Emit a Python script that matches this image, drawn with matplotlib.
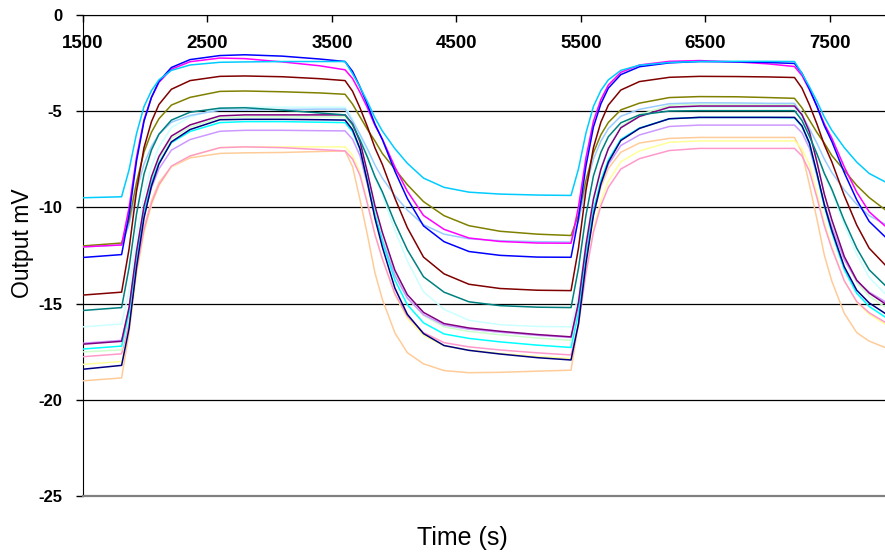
import matplotlib
matplotlib.use("Agg")
import matplotlib.pyplot as plt

plt.rcParams['font.family'] = ['Liberation Sans', 'DejaVu Sans']

# Sample times (s), shared by every sensor trace
time_s = [1500, 1810, 1870, 1930, 1990, 2050, 2110, 2210, 2360, 2600, 2800, 3100, 3400, 3605,
          3665, 3725, 3785, 3845, 3905, 4005, 4105, 4235, 4400, 4600, 4850, 5150, 5420,
          5480, 5540, 5600, 5660, 5720, 5820, 5970, 6210, 6450, 6750, 7000, 7215,
          7275, 7335, 7395, 7455, 7515, 7615, 7715, 7815, 7945]

# Output (mV) of each sensor
sky = [-9.50, -9.45, -8.05, -6.17, -4.77, -3.94, -3.38, -2.89, -2.61, -2.47, -2.45, -2.43, -2.43, -2.43,
       -3.06, -3.75, -4.52, -5.35, -6.04, -6.95, -7.71, -8.48, -8.96, -9.21, -9.31, -9.36, -9.38,
       -8.00, -6.14, -4.76, -3.93, -3.38, -2.89, -2.62, -2.48, -2.43, -2.42, -2.42, -2.43,
       -3.05, -3.74, -4.49, -5.32, -6.00, -6.90, -7.65, -8.24, -8.68]
blue = [-12.60, -12.45, -10.38, -7.59, -5.53, -4.29, -3.46, -2.74, -2.33, -2.12, -2.08, -2.15, -2.30, -2.43,
        -2.94, -3.75, -4.67, -5.68, -6.49, -8.12, -9.54, -10.96, -11.78, -12.29, -12.49, -12.58, -12.59,
        -10.57, -7.85, -5.83, -4.62, -3.81, -3.11, -2.70, -2.50, -2.43, -2.45, -2.48, -2.53,
        -3.04, -3.85, -4.76, -5.77, -6.58, -8.20, -9.61, -10.73, -11.54]
magenta = [-12.05, -11.95, -10.01, -7.39, -5.45, -4.29, -3.51, -2.83, -2.44, -2.25, -2.28, -2.45, -2.65, -2.86,
           -3.31, -4.03, -4.84, -5.74, -6.46, -7.90, -9.16, -10.42, -11.14, -11.59, -11.77, -11.85, -11.86,
           -9.97, -7.42, -5.53, -4.40, -3.65, -2.99, -2.61, -2.42, -2.38, -2.45, -2.55, -2.69,
           -3.16, -3.90, -4.74, -5.67, -6.41, -7.90, -9.21, -10.23, -10.98]
dark_red = [-14.55, -14.40, -12.16, -9.14, -6.90, -5.55, -4.66, -3.87, -3.42, -3.20, -3.18, -3.22, -3.32, -3.42,
            -3.97, -4.84, -5.82, -6.91, -7.78, -9.52, -11.05, -12.58, -13.45, -13.99, -14.21, -14.30, -14.32,
            -12.11, -9.12, -6.90, -5.57, -4.69, -3.91, -3.47, -3.25, -3.20, -3.21, -3.23, -3.26,
            -3.81, -4.68, -5.67, -6.76, -7.64, -9.39, -10.92, -12.12, -13.00]
olive = [-12.00, -11.85, -10.67, -8.70, -7.13, -6.10, -5.40, -4.69, -4.29, -3.98, -3.96, -4.00, -4.06, -4.13,
         -4.64, -5.30, -5.96, -6.55, -7.21, -8.01, -8.82, -9.70, -10.43, -10.95, -11.24, -11.39, -11.46,
         -10.39, -8.60, -7.16, -6.23, -5.59, -4.94, -4.59, -4.30, -4.25, -4.26, -4.30, -4.34,
         -4.83, -5.47, -6.11, -6.67, -7.31, -8.08, -8.86, -9.49, -10.13]
teal = [-15.35, -15.20, -13.13, -10.34, -8.27, -7.02, -6.20, -5.47, -5.06, -4.85, -4.83, -4.95, -5.10, -5.20,
        -5.70, -6.50, -7.40, -8.40, -9.20, -10.80, -12.20, -13.60, -14.40, -14.90, -15.10, -15.18, -15.20,
        -13.16, -10.41, -8.37, -7.14, -6.33, -5.61, -5.20, -5.00, -4.98, -4.98, -4.98, -4.98,
        -5.49, -6.31, -7.22, -8.24, -9.06, -10.69, -12.12, -13.24, -14.06]
light_cyan = [-16.20, -16.05, -14.37, -11.57, -9.33, -7.87, -6.87, -5.86, -5.30, -4.85, -4.80, -4.80, -4.80, -4.80,
              -5.37, -6.28, -7.31, -8.45, -9.36, -11.18, -12.78, -14.38, -15.29, -15.86, -16.09, -16.18, -16.20,
              -14.50, -11.66, -9.39, -7.91, -6.89, -5.87, -5.30, -4.85, -4.80, -4.80, -4.80, -4.80,
              -5.35, -6.22, -7.20, -8.29, -9.16, -10.90, -12.43, -13.63, -14.50]
purple = [-17.10, -16.95, -15.20, -12.27, -9.93, -8.41, -7.36, -6.30, -5.72, -5.25, -5.20, -5.20, -5.20, -5.20,
          -5.66, -6.58, -8.20, -9.92, -11.31, -13.26, -14.53, -15.45, -16.03, -16.26, -16.43, -16.60, -16.72,
          -14.93, -11.95, -9.57, -8.02, -6.95, -5.87, -5.28, -4.80, -4.74, -4.74, -4.74, -4.74,
          -5.19, -6.08, -7.64, -9.32, -10.65, -12.55, -13.78, -14.45, -15.01]
light_blue = [-12.05, -11.95, -10.90, -9.15, -7.75, -6.84, -6.21, -5.58, -5.23, -4.95, -4.95, -4.92, -4.90, -4.90,
              -5.52, -6.21, -6.97, -7.80, -8.49, -9.39, -10.14, -10.90, -11.39, -11.63, -11.73, -11.78, -11.80,
              -10.72, -8.93, -7.49, -6.56, -5.91, -5.27, -4.91, -4.62, -4.57, -4.58, -4.60, -4.60,
              -5.22, -5.91, -6.67, -7.50, -8.19, -9.09, -9.84, -10.43, -10.88]
navy = [-18.40, -18.20, -16.29, -13.10, -10.55, -8.89, -7.75, -6.60, -5.96, -5.45, -5.43, -5.43, -5.45, -5.47,
        -5.97, -6.96, -8.71, -10.57, -12.07, -14.19, -15.55, -16.55, -17.17, -17.42, -17.61, -17.80, -17.92,
        -16.04, -12.91, -10.41, -8.78, -7.65, -6.53, -5.90, -5.40, -5.33, -5.33, -5.33, -5.33,
        -5.77, -6.66, -8.21, -9.87, -11.20, -13.08, -14.30, -14.96, -15.51]
cyan = [-17.35, -17.20, -15.46, -12.56, -10.24, -8.73, -7.69, -6.64, -6.06, -5.60, -5.55, -5.55, -5.58, -5.60,
        -6.07, -7.00, -8.63, -10.38, -11.79, -13.77, -15.05, -15.99, -16.57, -16.80, -16.98, -17.15, -17.27,
        -15.49, -12.52, -10.15, -8.60, -7.54, -6.47, -5.88, -5.40, -5.33, -5.33, -5.33, -5.35,
        -5.80, -6.70, -8.28, -9.96, -11.31, -13.23, -14.46, -15.14, -15.70]
lavender = [-17.05, -16.90, -15.27, -12.56, -10.39, -8.98, -8.00, -7.03, -6.48, -6.05, -6.00, -6.00, -6.02, -6.03,
            -6.46, -7.32, -8.82, -10.43, -11.71, -13.53, -14.71, -15.57, -16.11, -16.32, -16.48, -16.64, -16.75,
            -15.11, -12.37, -10.18, -8.76, -7.77, -6.79, -6.24, -5.80, -5.73, -5.73, -5.73, -5.73,
            -6.13, -6.93, -8.32, -9.82, -11.01, -12.71, -13.81, -14.40, -14.90]
light_green = [-17.50, -17.40, -15.59, -12.58, -10.17, -8.60, -7.52, -6.43, -5.83, -5.35, -5.30, -5.30, -5.30, -5.30,
               -5.76, -6.69, -8.32, -10.06, -11.45, -13.42, -14.70, -15.62, -16.20, -16.44, -16.61, -16.78, -16.90,
               -15.07, -12.02, -9.58, -8.00, -6.90, -5.80, -5.19, -4.70, -4.64, -4.64, -4.64, -4.65,
               -5.11, -6.02, -7.63, -9.34, -10.72, -12.67, -13.92, -14.61, -15.18]
pink = [-17.75, -17.60, -16.00, -13.32, -11.18, -9.79, -8.83, -7.86, -7.33, -6.90, -6.86, -6.90, -7.00, -7.07,
        -7.49, -8.34, -9.82, -11.41, -12.68, -14.48, -15.65, -16.50, -17.02, -17.24, -17.40, -17.55, -17.66,
        -16.07, -13.42, -11.29, -9.91, -8.96, -8.01, -7.47, -7.05, -6.94, -6.94, -6.94, -6.94,
        -7.33, -8.12, -9.49, -10.96, -12.14, -13.81, -14.89, -15.47, -15.97]
yellow = [-18.15, -18.00, -16.34, -13.56, -11.34, -9.90, -8.90, -7.90, -7.34, -6.90, -6.86, -6.86, -6.86, -6.86,
          -7.30, -8.18, -9.72, -11.37, -12.68, -14.55, -15.76, -16.64, -17.19, -17.41, -17.58, -17.74, -17.85,
          -16.17, -13.36, -11.11, -9.65, -8.64, -7.63, -7.07, -6.62, -6.55, -6.55, -6.55, -6.55,
          -6.96, -7.79, -9.24, -10.79, -12.04, -13.80, -14.93, -15.55, -16.07]
peach = [-19.00, -18.85, -16.52, -13.37, -11.04, -9.65, -8.71, -7.90, -7.43, -7.20, -7.17, -7.15, -7.10, -7.07,
         -7.88, -9.60, -11.44, -13.40, -14.78, -16.51, -17.54, -18.12, -18.47, -18.58, -18.56, -18.50, -18.45,
         -16.04, -12.80, -10.39, -8.95, -7.98, -7.14, -6.66, -6.42, -6.37, -6.37, -6.37, -6.37,
         -7.15, -8.82, -10.60, -12.49, -13.83, -15.50, -16.50, -16.94, -17.28]

traces = [
    (peach, '#FFCC99'), (yellow, '#FFFF99'), (pink, '#FF99CC'), (light_green, '#CCFFCC'),
    (lavender, '#CC99FF'), (light_cyan, '#CCFFFF'), (light_blue, '#99CCFF'), (cyan, '#00FFFF'),
    (navy, '#000080'), (purple, '#800080'), (teal, '#008080'), (olive, '#808000'),
    (dark_red, '#800000'), (magenta, '#FF00FF'), (blue, '#0000FF'), (sky, '#00CCFF'),
]

x_ticks = [1500, 2500, 3500, 4500, 5500, 6500, 7500]
y_ticks = [0, -5, -10, -15, -20, -25]

fig = plt.figure(figsize=(8.85, 5.54), dpi=100)
ax = fig.add_axes([83 / 885, 1 - 496.4 / 554, (885 - 83) / 885, (496.4 - 14.7) / 554])

for values, color in traces:
    ax.plot(time_s, values, color=color, lw=1.1, zorder=3)

ax.set_xlim(1500, 7942)
ax.set_ylim(-25, 0)

# horizontal gridlines only
ax.set_yticks(y_ticks)
ax.set_yticklabels([str(v) for v in y_ticks], fontsize=12, fontweight='bold')
ax.yaxis.grid(True, color='black', lw=0.9, zorder=1)
ax.set_axisbelow(True)
ax.tick_params(axis='y', direction='out', length=5, width=1, pad=10)

# x axis sits on the zero line at the top, labels hang below it
ax.xaxis.tick_top()
ax.set_xticks(x_ticks)
ax.tick_params(axis='x', direction='in', length=5, width=1, labeltop=False)
for t in x_ticks:
    ax.annotate(str(t), xy=(t, 1), xycoords=('data', 'axes fraction'),
                xytext=(0, -20.5), textcoords='offset points',
                ha='center', va='center', fontsize=13.5, fontweight='bold')

ax.spines['right'].set_visible(False)
ax.spines['top'].set_color('black')
ax.spines['left'].set_color('black')
ax.spines['bottom'].set_color('#808080')
ax.spines['bottom'].set_linewidth(1.6)

fig.text(22 / 885, 1 - 243 / 554, 'Output mV', rotation=90, ha='center', va='center', fontsize=16.5)
fig.text(462 / 885, 1 - 538 / 554, 'Time (s)', ha='center', va='center', fontsize=18)

fig.savefig('out.png', dpi=100)
